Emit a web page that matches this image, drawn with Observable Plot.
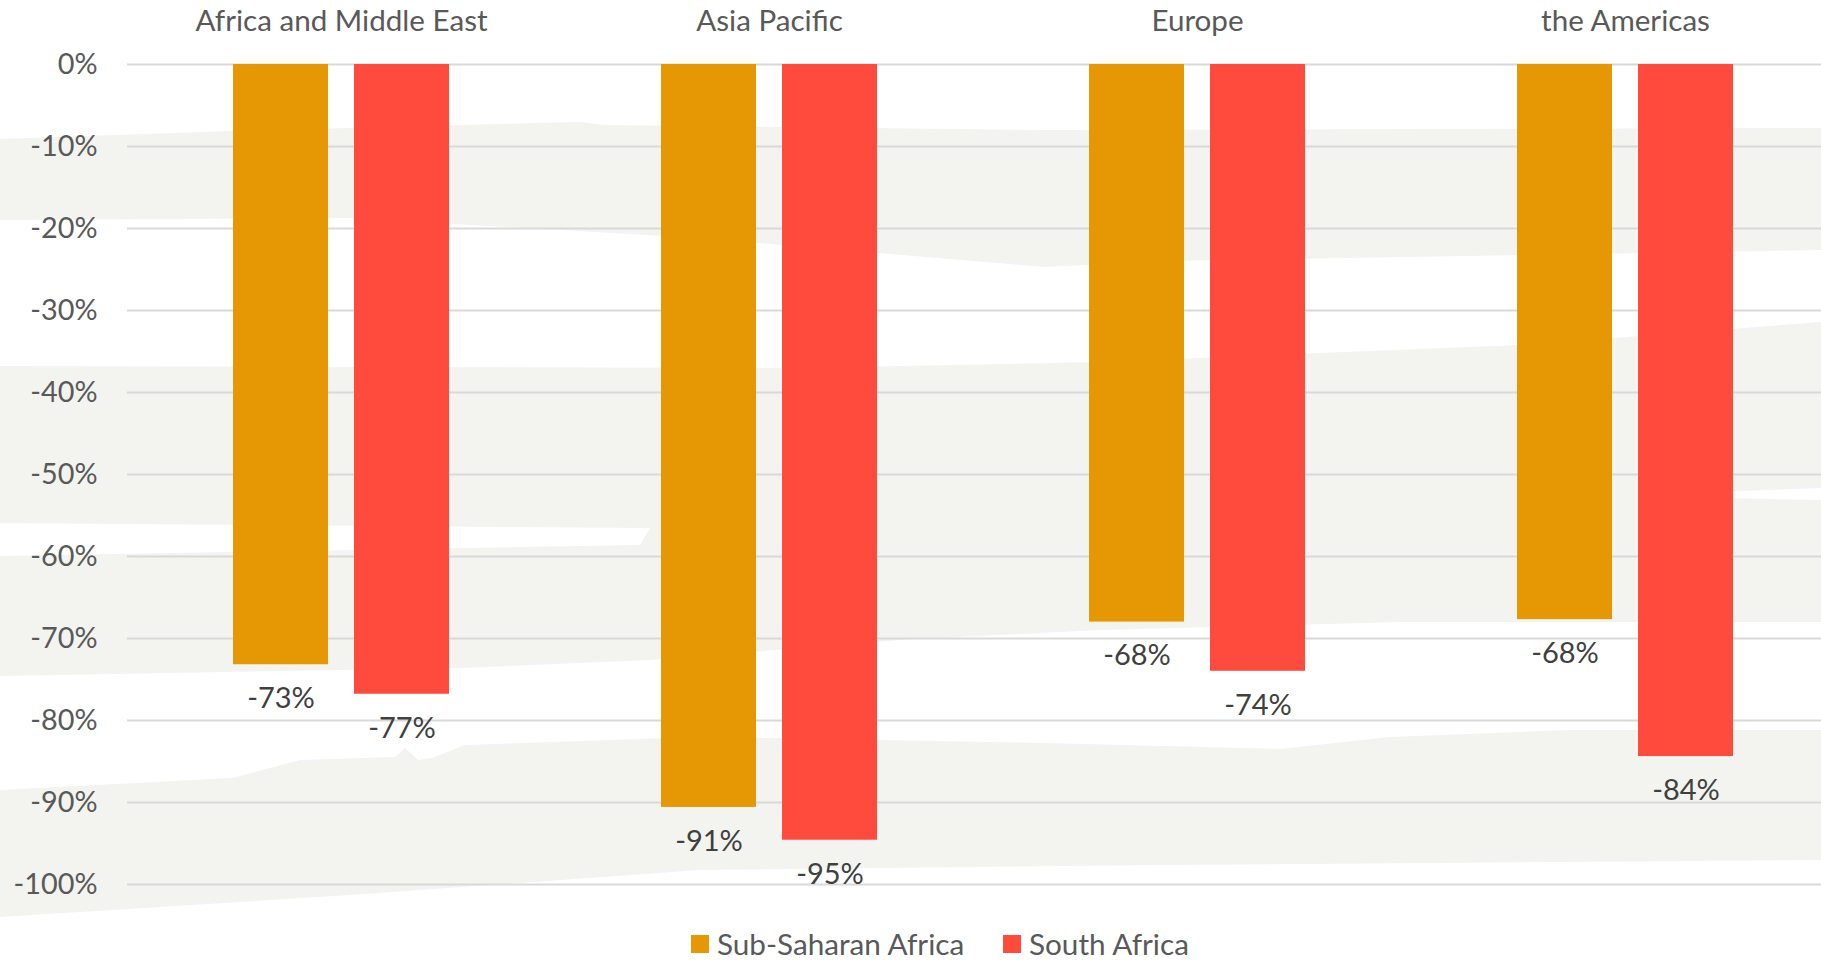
<!DOCTYPE html>
<html>
<head>
<meta charset="utf-8">
<script src="https://cdn.jsdelivr.net/npm/d3@7"></script>
<script src="https://cdn.jsdelivr.net/npm/@observablehq/plot@0.6"></script>
<style>
  html, body { margin: 0; padding: 0; background: #fff; overflow: hidden; }
  #wrap { position: relative; width: 1821px; height: 960px; }
  #decor { position: absolute; left: 0; top: 0; z-index: 0; }
  #chart { position: absolute; left: 0; top: 0; z-index: 1; }
  #legend { position: absolute; left: 0; top: 929px; height: 30px; z-index: 1;
            font-family: Lato, sans-serif; font-size: 29.7px; color: #595959; line-height: 30px; }
  .item { position: absolute; top: 0; display: flex; align-items: center; height: 30px; white-space: nowrap; }
  .sw { width: 18px; height: 18px; margin-right: 8px; }
</style>
</head>
<body>
<div id="wrap">
  <svg id="decor" width="1821" height="960"></svg>
  <div id="chart"></div>
  <div id="legend"></div>
</div>
<script>
// ---- data ----
const regions = ["Africa and Middle East", "Asia Pacific", "Europe", "the Americas"];
const seriesNames = ["Sub-Saharan Africa", "South Africa"];
const subSaharanAfrica = [-73.2, -90.6, -68.0, -67.7];
const southAfrica = [-76.8, -94.6, -74.0, -84.4];
const yTicks = [0, -10, -20, -30, -40, -50, -60, -70, -80, -90, -100];
const seriesColors = ["#E59803", "#FF4A3E"];

const data = regions.flatMap((r, i) => [
  {region: r, series: seriesNames[0], value: subSaharanAfrica[i]},
  {region: r, series: seriesNames[1], value: southAfrica[i]}
]);

// ---- decorative background brush strokes (not data) ----
const decorShapes = [
  "M0,139 L232,131 L580,122 L604,125 L1045,130 L1821,128 L1821,250 L1160,261 L1045,267 L700,238 L350,218 L0,220 Z",
  "M0,366 L800,368 L1100,362 L1520,345 L1821,322 L1821,622 L1400,622 L1100,630 L900,640 L650,660 L460,668 L0,676 Z",
  "M0,790 L232,778 L300,760 L395,757 L405,748 L418,760 L432,758 L465,745 L700,737 L1045,743 L1280,749 L1390,737 L1570,730 L1821,730 L1821,860 L1160,865 L700,870 L350,895 L0,917 Z"
];
const decorGaps = [
  "M0,523 L650,528 L640,545 L0,556 Z",
  "M1714,492 L1821,488 L1821,500 L1714,498 Z"
];
const decor = d3.select("#decor");
decorShapes.forEach(p => decor.append("path").attr("d", p).attr("fill", "#F3F3EF"));
decorGaps.forEach(p => decor.append("path").attr("d", p).attr("fill", "#FFFFFF"));

// ---- chart ----
const chart = Plot.plot({
  width: 1821,
  height: 920,
  marginLeft: 125,
  marginRight: 0,
  marginTop: 64,
  marginBottom: 36,
  style: {fontFamily: "Lato, sans-serif", fontSize: "28.8px", color: "#595959", background: "transparent", overflow: "visible"},
  fx: {domain: regions, range: [125.4, 1839.8], padding: 0, axis: null},
  x: {domain: seriesNames, paddingInner: 0.218, paddingOuter: 0.867, axis: null},
  y: {domain: [-100, 0], range: [884, 64], axis: null},
  color: {domain: seriesNames, range: seriesColors},
  marks: [
    Plot.ruleY(yTicks, {y: d => d, stroke: "#D9D9D9", strokeWidth: 2}),
    Plot.axisY({ticks: yTicks, tickSize: 0, tickPadding: 30, tickFormat: d => `${d}%`, label: null, fill: "#595959"}),
    Plot.barY(data, {fx: "region", x: "series", y1: 0, y2: "value", fill: "series"}),
    Plot.text(data, {fx: "region", x: "series", y: "value", text: d => `${Math.round(d.value)}%`, dy: 34, fill: "#404040", fontSize: 29}),
    Plot.text(regions, {fx: d => d, text: d => d, frameAnchor: "top", lineAnchor: "middle", dy: -43, fill: "#595959", fontSize: 29.6})
  ]
});
document.getElementById("chart").appendChild(chart);

// ---- legend ----
const legendX = [691, 1003];
const legend = d3.select("#legend");
seriesNames.forEach((s, i) => {
  const it = legend.append("div").attr("class", "item").style("left", legendX[i] + "px");
  it.append("div").attr("class", "sw").style("background", seriesColors[i]);
  it.append("span").text(s);
});
</script>
</body>
</html>
